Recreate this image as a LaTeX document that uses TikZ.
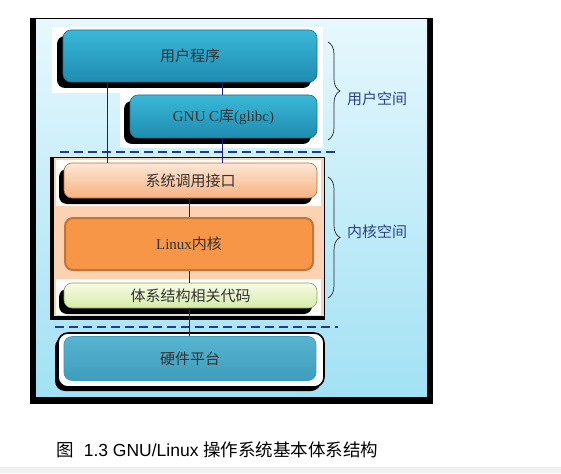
\documentclass[tikz,border=0pt]{standalone}
\usepackage{fontspec}
\setmainfont{Liberation Serif}
\setsansfont{Liberation Sans}
\newfontfamily\cjk{Noto Sans CJK SC}
\usepackage{tikz}
\usetikzlibrary{shadows}
\usetikzlibrary{decorations.pathreplacing}
\definecolor{frameTop}{HTML}{E6F8FD}
\definecolor{frameBot}{HTML}{A2E1F4}
\definecolor{userTop}{HTML}{3AB8D8}
\definecolor{userBot}{HTML}{1E8CB0}
\definecolor{userDraw}{HTML}{1B6F8A}
\definecolor{sysTop}{HTML}{FEE7D4}
\definecolor{sysBot}{HTML}{F5B282}
\definecolor{sysDraw}{HTML}{B0703A}
\definecolor{kernFill}{HTML}{F79646}
\definecolor{kernDraw}{HTML}{C0763A}
\definecolor{kernBg}{HTML}{FBD3B2}
\definecolor{archTop}{HTML}{F6FBE6}
\definecolor{archBot}{HTML}{D8ECA8}
\definecolor{archDraw}{HTML}{8AA050}
\definecolor{hwTop}{HTML}{58B4D0}
\definecolor{hwBot}{HTML}{3E9CBC}
\definecolor{dashBlue}{HTML}{1F3C8E}
\definecolor{linkBlue}{HTML}{1E1E86}
\definecolor{labelBlue}{HTML}{2A3F8F}
\newcommand{\boxfont}{\fontsize{15pt}{17pt}\selectfont}
\newcommand{\spaceX}{347}
\tikzset{%
  layer/.style={rounded corners=8pt, line width=0.6pt, inner sep=0pt, align=center,
    font=\boxfont, text=black!80},
  -shadow-/.style={drop shadow={shadow xshift=#1, shadow yshift=-6pt, fill=black, opacity=1}},
  userbox/.style={layer, draw=userDraw, top color=userTop, bottom color=userBot, -shadow-=-6pt},
  sysbox/.style={layer, draw=sysDraw, top color=sysTop, bottom color=sysBot, -shadow-=-5pt},
  archbox/.style={layer, draw=archDraw, top color=archTop, bottom color=archBot, -shadow-=-5pt},
  link/.style={draw=linkBlue, line width=0.8pt},
  sep/.style={draw=dashBlue, line width=1.3pt, dash pattern=on 9pt off 5pt},
  space brace/.style={decorate, decoration={brace, amplitude=12pt}, line width=0.7pt, draw=black!85},
  space label/.style={anchor=west, inner sep=0pt, font=\boxfont\cjk, text=labelBlue}
}
\begin{document}
\begin{tikzpicture}[x=1pt, y=-1pt]
\useasboundingbox (0,0) rectangle (561,473);
\fill[black!6] (0,467) rectangle (561,473);

% frame
\fill[black] (30,18) rectangle (433,404);
\shade[top color=frameTop, bottom color=frameBot] (36,19.5) rectangle (427,396);

% user space
\fill[white] (52,27) rectangle (323,93);
\fill[white] (120,93) rectangle (323,148);
\node[userbox, minimum width=254pt, minimum height=52pt] (userprog) at (190,56) {\cjk 用户程序};
\node[userbox, minimum width=187pt, minimum height=43pt] (glibc) at (223.5,116.5) {GNU C{\cjk 库}(glibc)};

\draw[sep] (60,152) -- (338,152);

% kernel space
\fill[black] (50,157) rectangle (325,320);
\fill[kernBg] (54,158) rectangle (323.5,316);
\fill[white] (56,160) rectangle (321,206);
\fill[white] (56,279) rectangle (321,315);
\node[sysbox, minimum width=253pt, minimum height=35pt] (syscall) at (190.5,180.5) {\cjk 系统调用接口};
\node[layer, draw=kernDraw, line width=2pt, fill=kernFill, minimum width=248pt, minimum height=52pt] (kernel) at (189,244) {Linux{\cjk 内核}};
\node[archbox, minimum width=253pt, minimum height=25pt] (arch) at (190.5,295.5) {\cjk 体系结构相关代码};

\draw[sep] (55,327) -- (338,327);

% hardware
\node[layer, draw=black, line width=1.6pt, fill=white, rounded corners=10pt, minimum width=266pt, minimum height=54pt,
  drop shadow={shadow xshift=-3pt, shadow yshift=-4pt, fill=black, opacity=1}] (hwframe) at (191,360) {};
\node[layer, draw=hwBot, top color=hwTop, bottom color=hwBot, minimum width=252pt, minimum height=44pt] (hw) at (190,358.5) {\cjk 硬件平台};

% links
\coordinate (lx1) at (107,0);
\coordinate (lx2) at (222,0);
\coordinate (lx3) at (189,0);
\draw[link] (userprog.south -| lx1) -- (syscall.north -| lx1);
\draw[link] (userprog.south -| lx2) -- (glibc.north -| lx2);
\draw[link] (glibc.south -| lx2) -- (syscall.north -| lx2);
\draw[link] (syscall.south -| lx3) -- (kernel.north -| lx3);
\draw[link] (kernel.south -| lx3) -- (arch.north -| lx3);
\draw[link] (arch.south -| lx3) -- (hw.north -| lx3);

% braces
\coordinate (userTopB) at (328,42);
\coordinate (userBotB) at (328,140);
\coordinate (kernTopB) at (328,177);
\coordinate (kernBotB) at (328,298);
\draw[space brace] (userTopB) -- (userBotB);
\draw[space brace] (kernTopB) -- (kernBotB);
\node[space label] (userspace) at (\spaceX,99) {用户空间};
\node[space label] (kernspace) at (\spaceX,232) {内核空间};

\node[font=\fontsize{17.5pt}{20pt}\selectfont\sffamily, inner sep=0pt] (caption) at (217.5,450) {{\cjk 图}\ \ 1.3 GNU/Linux {\cjk 操作系统基本体系结构}};
\end{tikzpicture}
\end{document}
